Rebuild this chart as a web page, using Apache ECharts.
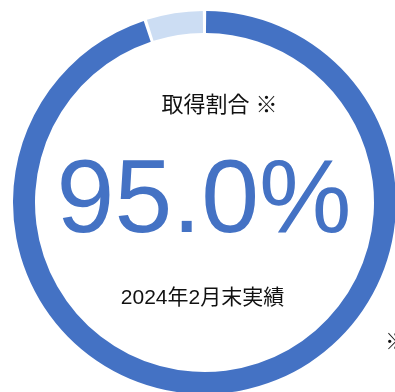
<!DOCTYPE html>
<html>
<head>
<meta charset="utf-8">
<style>
  html, body { margin: 0; padding: 0; background: #fff; }
  #chart { width: 395px; height: 392px; }
</style>
<script src="https://cdn.jsdelivr.net/npm/echarts@6/dist/echarts.min.js"></script>
</head>
<body>
<div id="chart"></div>
<script>
// Acquisition share, end of Feb 2024
const categories = ['取得', '未取得'];
const shareValues = [95.0, 5.0];
const sliceColors = ['#4472C4', '#CCDDF3'];

const headline = '取得割合 ※';
const periodLabel = '2024年2月末実績';
const noteMark = '※';

const FONT = '"Liberation Sans", Arial, "Noto Sans CJK JP", sans-serif';
const CJK_FONT = '"Noto Sans CJK JP", sans-serif';

const chart = echarts.init(document.getElementById('chart'), null, { renderer: 'canvas' });

chart.setOption({
  animation: false,
  backgroundColor: '#ffffff',
  series: [{
    type: 'pie',
    center: [204.5, 202.5],
    radius: [169.5, 191.5],
    startAngle: 90,
    clockwise: true,
    padAngle: 1,
    silent: true,
    label: { show: false },
    labelLine: { show: false },
    itemStyle: { borderWidth: 0 },
    data: categories.map((name, i) => ({
      name,
      value: shareValues[i],
      itemStyle: { color: sliceColors[i] }
    }))
  }],
  graphic: [
    {
      type: 'text', x: 219.5, y: 106,
      style: { text: headline, font: '22px ' + FONT, fill: '#111', align: 'center', verticalAlign: 'middle' }
    },
    {
      type: 'text', x: 204, y: 203,
      style: { text: shareValues[0].toFixed(1) + '%', font: '104px ' + FONT, fill: '#4472C4', align: 'center', verticalAlign: 'middle' }
    },
    {
      type: 'text', x: 202.5, y: 298.5,
      style: { text: periodLabel, font: '21px ' + FONT, fill: '#111', align: 'center', verticalAlign: 'middle' }
    },
    {
      type: 'text', x: 385, y: 341,
      style: { text: noteMark, font: '22px ' + CJK_FONT, fill: '#111', align: 'left', verticalAlign: 'middle' }
    }
  ]
});
</script>
</body>
</html>
